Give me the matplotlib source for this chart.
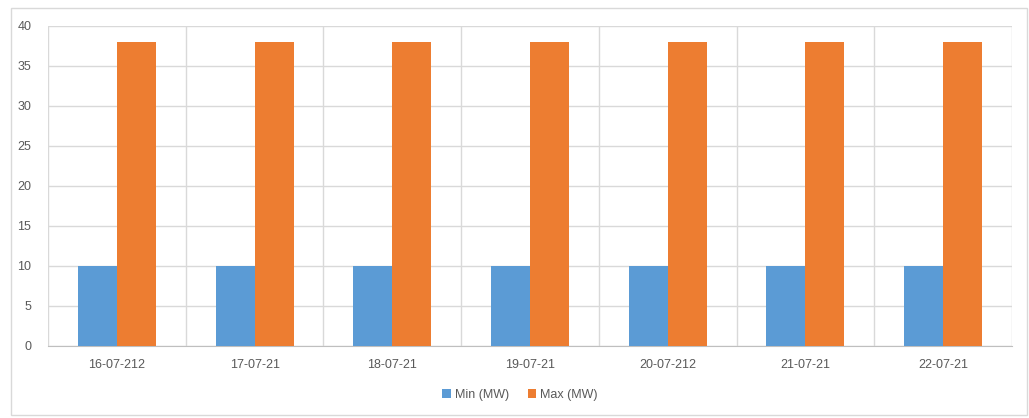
import numpy as np
import matplotlib.pyplot as plt
from matplotlib.patches import Rectangle

dates = ["16-07-212", "17-07-21", "18-07-21", "19-07-21", "20-07-212", "21-07-21", "22-07-21"]
min_mw = [10, 10, 10, 10, 10, 10, 10]
max_mw = [38, 38, 38, 38, 38, 38, 38]

plt.rcParams['font.family'] = ['Liberation Sans', 'DejaVu Sans']
txt = '#595959'
grid = '#D9D9D9'

fig = plt.figure(figsize=(10.29, 4.18), dpi=100)
fig.patches.append(Rectangle((11 / 1029, 3 / 418), 1016 / 1029, 407 / 418, transform=fig.transFigure,
                             fill=False, edgecolor=grid, linewidth=1))
ax = fig.add_axes([48 / 1029, 72 / 418, 964 / 1029, 320 / 418])

x = np.arange(len(dates))
w = 0.283
ax.bar(x - w / 2, min_mw, w, color='#5B9BD5', label='Min (MW)', zorder=3)
ax.bar(x + w / 2, max_mw, w, color='#ED7D31', label='Max (MW)', zorder=3)

ax.set_xlim(-0.5, len(dates) - 0.5)
ax.set_ylim(0, 40)
ax.set_yticks(np.arange(0, 41, 5))
ax.set_xticks(x)
ax.set_xticklabels(dates)
ax.set_xticks(np.arange(-0.5, len(dates), 1), minor=True)
ax.tick_params(axis='both', which='both', length=0, colors=txt, labelsize=9)
ax.tick_params(axis='x', pad=9)
ax.tick_params(axis='y', pad=12)
ax.grid(axis='y', color=grid, linewidth=1, zorder=0)
ax.grid(axis='x', which='minor', color=grid, linewidth=1, zorder=0)
for s in ['top', 'right', 'left']:
    ax.spines[s].set_visible(False)
ax.spines['bottom'].set_color('#BFBFBF')

leg = fig.legend(loc='center', bbox_to_anchor=(520 / 1029, 23 / 418), ncol=2, frameon=False,
                 fontsize=9, handlelength=0.7, handleheight=0.7, handletextpad=0.3, columnspacing=1.5)
for t in leg.get_texts():
    t.set_color(txt)

plt.savefig('out.png', dpi=100)
